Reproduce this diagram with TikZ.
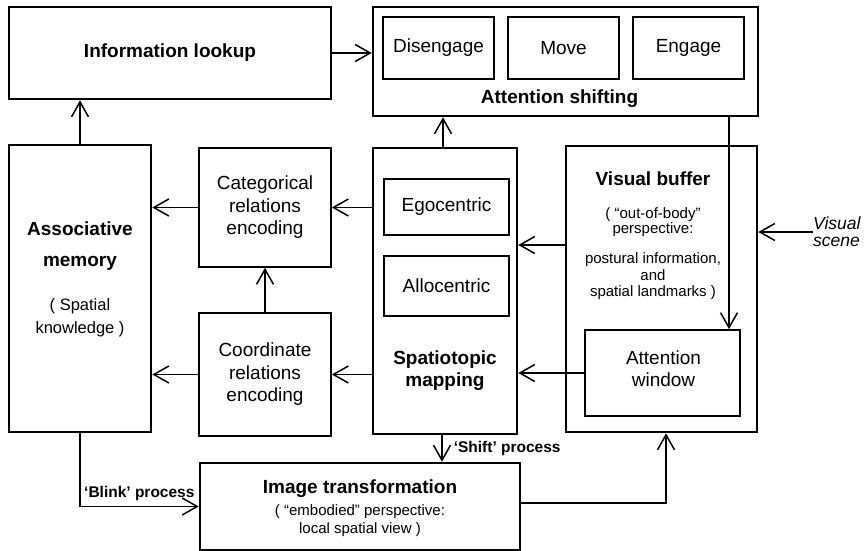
\documentclass[tikz,border=0pt]{standalone}
\usepackage{fontspec}
\setmainfont{Liberation Sans}
\usetikzlibrary{arrows.meta, positioning}

\begin{document}
\begin{tikzpicture}[x=1pt, y=-1pt, >={Straight Barb[length=15pt, width=17pt]}]
    \tikzstyle{bigbox} = [draw, line width=2.6pt, inner sep=0pt]
    \tikzstyle{smallbox} = [draw, line width=1.7pt, inner sep=0pt, align=center, font=\fontsize{19}{22.5}\selectfont]
    \tikzstyle{title} = [inner sep=0pt, align=center, font=\bfseries\fontsize{19}{22}\selectfont]
    \tikzstyle{note} = [inner sep=0pt, align=center, font=\fontsize{15}{16.5}\selectfont]
    \tikzstyle{proc} = [inner sep=0pt, font=\bfseries\fontsize{15.5}{18}\selectfont]
    \tikzstyle{conn} = [->, line width=1.5pt]

    \useasboundingbox (0,0) rectangle (868,551);

    % Top row
    \node[bigbox, title, minimum width=322pt, minimum height=92pt] (info) at (170,53) {Information lookup};
    \node[bigbox, minimum width=385pt, minimum height=109pt] (shift) at (565.5,61.5) {};
    \node[smallbox, minimum width=111pt, minimum height=62pt] (diseng) at (438.5,48) {Disengage};
    \node[smallbox, minimum width=111pt, minimum height=62pt] (move) at (563.5,48) {Move};
    \node[smallbox, minimum width=111pt, minimum height=62pt] (engage) at (688.5,48) {Engage};
    \node[title] (shiftlbl) at (559.5,99) {Attention shifting};

    % Middle row
    \node[bigbox, minimum width=142pt, minimum height=287pt] (assoc) at (80,288.5) {};
    \node[title] (assoclbl) at (80,246) {Associative\\[9pt]memory};
    \node[note, font=\fontsize{16.5}{23}\selectfont] (assocnote) at (80,318) {( Spatial\\knowledge )};

    \node[smallbox, minimum width=132pt, minimum height=119pt] (categ) at (265,207.5) {Categorical\\relations\\encoding};
    \node[smallbox, minimum width=132pt, minimum height=123pt] (coord) at (265,374.5) {Coordinate\\relations\\encoding};

    \node[bigbox, minimum width=144pt, minimum height=286pt] (spatio) at (445,291) {};
    \node[smallbox, minimum width=125pt, minimum height=56pt] (ego) at (446.5,207) {Egocentric};
    \node[smallbox, minimum width=125pt, minimum height=60pt] (allo) at (446.5,286) {Allocentric};
    \node[title] (spatiolbl) at (445,371) {Spatiotopic\\mapping};

    \node[bigbox, minimum width=191pt, minimum height=286pt] (vbuf) at (661.5,289) {};
    \node[title] (vbuflbl) at (653,179) {Visual buffer};
    \node[note, anchor=north] (vbufnote) at (653,207) {( “out-of-body”\\[-1.5pt]perspective:\\[14pt]postural information,\\and\\spatial landmarks )};
    \node[smallbox, minimum width=155pt, minimum height=86pt] (window) at (662.5,373) {};
    \node[inner sep=0pt, align=center, font=\fontsize{19}{22.5}\selectfont] (windowlbl) at (663.5,368.5) {Attention\\window};

    \node[inner sep=0pt, anchor=west, align=left, font=\itshape\fontsize{17.5}{17}\selectfont] (scene) at (813,232) {Visual\\scene};

    % Bottom row
    \node[bigbox, minimum width=320pt, minimum height=87pt] (imgtr) at (360,506.5) {};
    \node[title] (imgtrlbl) at (360,489) {Image transformation};
    \node[note, font=\fontsize{15}{18}\selectfont] (imgtrnote) at (360,521) {( “embodied” perspective:\\local spatial view )};

    % Edges
    \draw[conn] (assoc.north) -- (assoc.north |- info.south);
    \draw[conn] (info.east) -- (info.east -| shift.west);
    \draw[conn] (categ.west) -- (categ.west -| assoc.east);
    \draw[conn] (coord.west) -- (coord.west -| assoc.east);
    \draw[conn] (coord.north) -- (categ.south);
    \draw[conn] (categ.east -| spatio.west) -- (categ.east);
    \draw[conn] (coord.east -| spatio.west) -- (coord.east);
    \draw[conn] ([xshift=-2pt]spatio.north) -- ([xshift=-2pt]spatio.north |- shift.south);
    \draw[conn] ([yshift=44pt]vbuf.west) coordinate (vbout) -- (vbout -| spatio.east);
    \draw[conn] (window.west) -- (window.west -| spatio.east);
    \draw[conn] ([xshift=66.5pt]window.north |- shift.south) -- ([xshift=66.5pt]window.north);
    \draw[conn] (scene.west) -- (scene.west -| vbuf.east);
    \draw[conn] ([xshift=-3pt]spatio.south) -- ([xshift=-3pt]spatio.south |- imgtr.north)
        node[proc, midway, right=11pt] (shiftproc) {‘Shift’ process};
    \draw[conn] (assoc.south) |- (imgtr.west)
        node[proc, pos=0.75, above=5pt] (blinkproc) {‘Blink’ process};
    \draw[conn] ([yshift=3.5pt]imgtr.east) -| ([xshift=4.5pt]vbuf.south);
\end{tikzpicture}
\end{document}
